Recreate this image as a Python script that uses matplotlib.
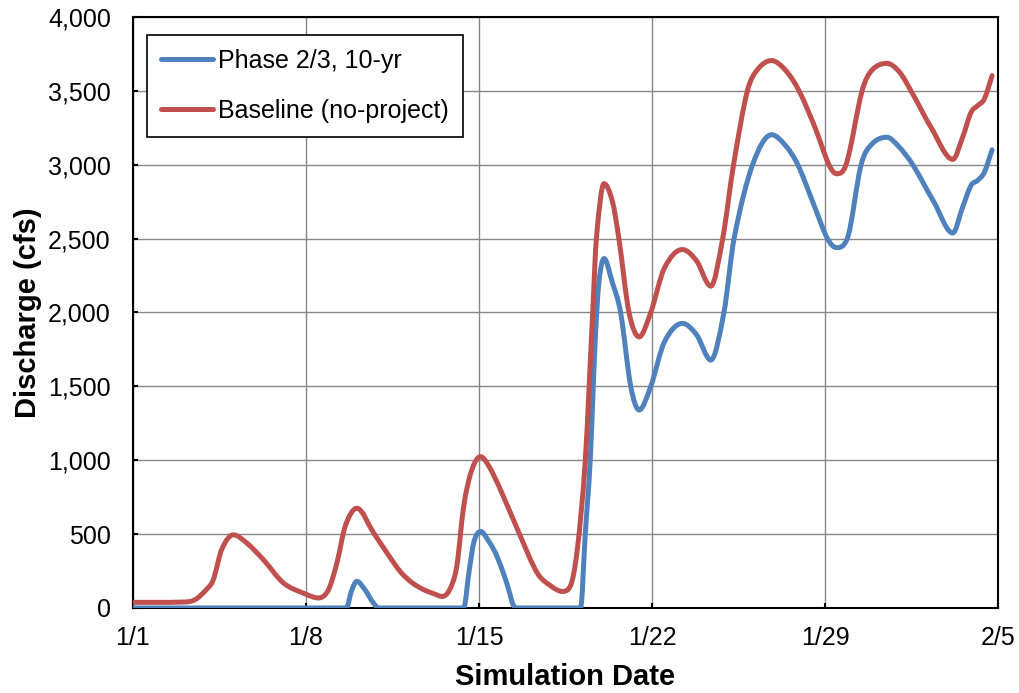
import matplotlib
matplotlib.use('Agg')
import matplotlib.pyplot as plt
from matplotlib.path import Path
from matplotlib.patches import PathPatch
from matplotlib.lines import Line2D
from matplotlib.ticker import FuncFormatter

plt.rcParams['font.family'] = ['Liberation Sans', 'DejaVu Sans']

# days since 1/1
base_day = [0, 1, 2, 2.5, 3.0, 3.25, 3.6, 4.06, 4.6, 5.28, 6.09, 6.97, 7.5, 7.9, 8.25, 8.6,
            9.06, 9.74, 10.28, 10.82, 11.3, 11.76, 12.2, 12.5, 12.8, 13.1, 13.38, 13.7, 14.06,
            14.4, 14.87, 15.68, 16.36, 16.9, 17.37, 17.69, 17.98, 18.3, 18.6, 18.75, 19.06,
            19.4, 19.66, 20.07, 20.48, 20.95, 21.5, 22.23, 22.8, 23.38, 23.86, 24.3, 24.86,
            25.3, 25.84, 26.4, 26.95, 27.6, 28.16, 28.47, 28.85, 29.5, 29.9, 30.5, 31.0, 31.48,
            32.3, 33.17, 33.57, 33.91, 34.18, 34.45, 34.76]
base_q = [38, 38, 40, 55, 130, 191, 400, 495, 440, 326, 169, 95, 68, 120, 304, 560,
          675, 507, 372, 245, 170, 124, 95, 78, 120, 281, 687, 930, 1024,
          960, 800, 484, 236, 150, 112, 146, 400, 1000, 2000, 2500, 2872,
          2750, 2500, 2000, 1835, 2000, 2300, 2426, 2350, 2178, 2500, 3000, 3500,
          3650, 3705, 3640, 3500, 3250, 3000, 2939, 3000, 3500, 3640, 3686, 3630, 3500,
          3250, 3036, 3187, 3355, 3400, 3446, 3603]

phase_day = [0, 8.63, 8.85, 9.06, 9.4, 9.7, 9.94, 13.38, 13.6, 13.8, 14.06, 14.4, 14.73,
             15.1, 15.48, 18.11, 18.3, 18.5, 18.7, 18.85, 19.06, 19.4, 19.73, 20.14, 20.48,
             20.95, 21.5, 22.23, 22.8, 23.38, 23.91, 24.32, 25.07, 25.84, 26.4, 26.9, 27.5,
             28.1, 28.47, 28.9, 29.46, 29.9, 30.5, 31.0, 31.55, 32.4, 33.17, 33.57, 33.91,
             34.18, 34.45, 34.76]
phase_q = [0, 0, 120, 180, 120, 40, 0, 0, 250, 450, 518, 450, 349,
           180, 0, 0, 500, 1000, 1800, 2200, 2365, 2200, 2000, 1500, 1340,
           1500, 1800, 1926, 1850, 1678, 2000, 2500, 3000, 3203, 3130, 3000, 2750,
           2500, 2439, 2500, 3000, 3140, 3186, 3120, 3000, 2750, 2538, 2714, 2860,
           2894, 2950, 3101]

tick_days = [0, 7, 14, 21, 28, 35]
tick_labels = ['1/1', '1/8', '1/15', '1/22', '1/29', '2/5']

blue = '#4F81BD'
red = '#C0504D'


def smooth_path(x, y):
    # smoothed line like Excel: bezier segments through the points
    n = len(x)
    d = [(y[i + 1] - y[i]) / (x[i + 1] - x[i]) for i in range(n - 1)]
    m = [d[0]] + [0.0] * (n - 2) + [d[-1]]
    for i in range(1, n - 1):
        if d[i - 1] * d[i] > 0:
            c = (y[i + 1] - y[i - 1]) / (x[i + 1] - x[i - 1])
            lim = 3 * min(abs(d[i - 1]), abs(d[i]))
            m[i] = max(-lim, min(lim, c))
    verts = [(x[0], y[0])]
    codes = [Path.MOVETO]
    for i in range(n - 1):
        h = (x[i + 1] - x[i]) / 3
        verts += [(x[i] + h, y[i] + m[i] * h),
                  (x[i + 1] - h, y[i + 1] - m[i + 1] * h),
                  (x[i + 1], y[i + 1])]
        codes += [Path.CURVE4] * 3
    return Path(verts, codes)


fig = plt.figure(figsize=(10.19, 6.93), dpi=100)
ax = fig.add_axes([0.1305, 0.1227, 0.8489, 0.8528])

for xs, ys, c in [(phase_day, phase_q, blue), (base_day, base_q, red)]:
    ax.add_patch(PathPatch(smooth_path(xs, ys), fill=False, edgecolor=c, lw=3.6,
                           capstyle='round', joinstyle='round', zorder=3))

ax.set_xlim(0, 35)
ax.set_ylim(0, 4000)
ax.set_xticks(tick_days)
ax.set_xticklabels(tick_labels)
ax.set_yticks(range(0, 4001, 500))
ax.yaxis.set_major_formatter(FuncFormatter(lambda v, p: f'{int(v):,}'))

ax.grid(True, color='#878787', lw=1.0)
ax.set_axisbelow(True)
for s in ax.spines.values():
    s.set_color('black')
    s.set_linewidth(1.5)
ax.tick_params(direction='in', length=3.6, width=1.5, labelsize=18, color='black')
ax.tick_params(axis='x', pad=13)
ax.tick_params(axis='y', pad=16)

ax.set_xlabel('Simulation Date', fontsize=21, fontweight='bold', labelpad=9)
ax.set_ylabel('Discharge (cfs)', fontsize=21, fontweight='bold', labelpad=4)

handles = [Line2D([], [], color=blue, lw=3.6, solid_capstyle='round'),
           Line2D([], [], color=red, lw=3.6, solid_capstyle='round')]
leg = ax.legend(handles, ['Phase 2/3, 10-yr', 'Baseline (no-project)'],
                loc='upper left', bbox_to_anchor=(0.0162, 0.9695), fontsize=18,
                frameon=True, fancybox=False, edgecolor='black', framealpha=1,
                handlelength=2.1, handletextpad=0.2, labelspacing=1.05,
                borderpad=0.55, borderaxespad=0)
leg.get_frame().set_linewidth(1.2)

fig.savefig('out.png', dpi=100)
